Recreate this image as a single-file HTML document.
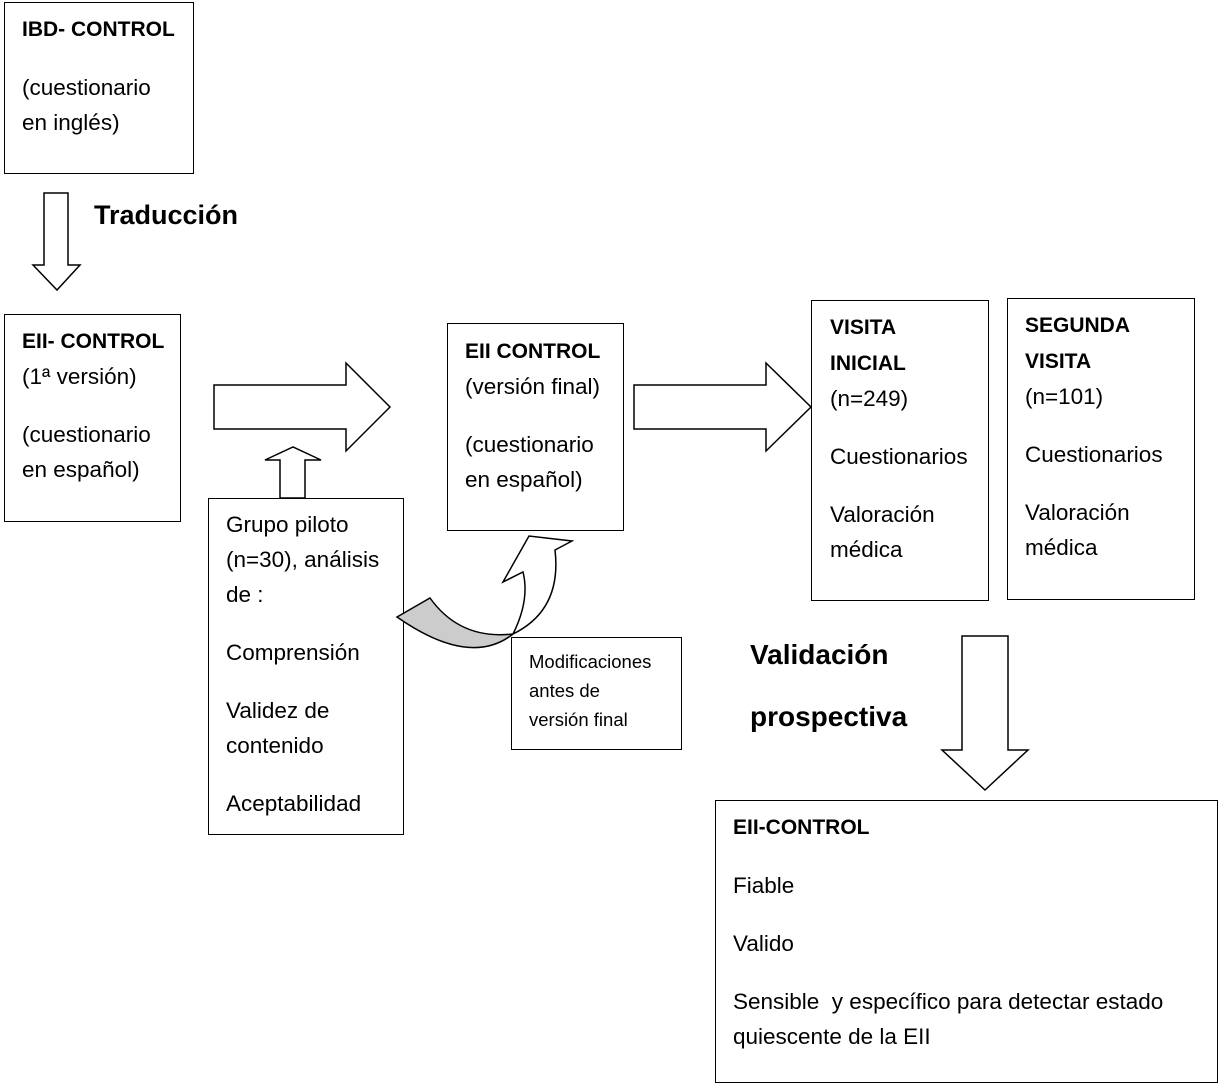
<!DOCTYPE html>
<html><head><meta charset="utf-8"><style>
body{margin:0;background:#fff;width:1220px;height:1085px;position:relative;overflow:hidden;font-family:"Liberation Sans",sans-serif;color:#000}
.b{position:absolute;border:1.5px solid #000;box-sizing:border-box;background:#fff}
.t{position:absolute;font-size:22.5px;line-height:35px;white-space:nowrap}
.t b{font-size:21px}
.g{height:23px}
</style></head><body>
<svg width="1220" height="1085" style="position:absolute;left:0;top:0" fill="#fff" stroke="#000" stroke-width="1.5">
<polygon points="44,193 68,193 68,265 80,265 57,290 33,265 44,265"/>
<polygon points="214,385 346,385 346,363 390,407 346,451 346,429 214,429"/>
<polygon points="280,498 280,460 265,460 293,447 321,460 305,460 305,498"/>
<polygon points="634,385 766,385 766,363 811,407 766,451 766,429 634,429"/>
<polygon points="962,636 1008,636 1008,750 1028,750 985,790 942,750 962,750"/>
</svg>
<div class="b" style="left:4px;top:2px;width:190px;height:172px"></div>
<div class="t" style="left:22px;top:11px"><div><b>IBD- CONTROL</b></div><div class="g"></div><div>(cuestionario</div><div>en inglés)</div></div>
<div class="t" style="left:94px;top:198px;font-size:27px;font-weight:bold">Traducción</div>
<div class="b" style="left:4px;top:314px;width:177px;height:208px"></div>
<div class="t" style="left:22px;top:323px"><div><b>EII- CONTROL</b></div><div>(1ª versión)</div><div class="g"></div><div>(cuestionario</div><div>en español)</div></div>
<div class="b" style="left:208px;top:498px;width:196px;height:337px"></div>
<div class="t" style="left:226px;top:507px"><div>Grupo piloto</div><div>(n=30), análisis</div><div>de :</div><div class="g"></div><div>Comprensión</div><div class="g"></div><div>Validez de</div><div>contenido</div><div class="g"></div><div>Aceptabilidad</div></div>
<div class="b" style="left:447px;top:323px;width:177px;height:208px"></div>
<div class="t" style="left:465px;top:333px"><div><b>EII CONTROL</b></div><div>(versión final)</div><div class="g"></div><div>(cuestionario</div><div>en español)</div></div>
<div class="b" style="left:811px;top:300px;width:178px;height:301px"></div>
<div class="t" style="left:830px;top:309px"><div><b>VISITA</b></div><div><b>INICIAL</b></div><div>(n=249)</div><div class="g"></div><div>Cuestionarios</div><div class="g"></div><div>Valoración</div><div>médica</div></div>
<div class="b" style="left:1007px;top:298px;width:188px;height:302px"></div>
<div class="t" style="left:1025px;top:307px"><div><b>SEGUNDA</b></div><div><b>VISITA</b></div><div>(n=101)</div><div class="g"></div><div>Cuestionarios</div><div class="g"></div><div>Valoración</div><div>médica</div></div>
<svg width="1220" height="1085" style="position:absolute;left:0;top:0" stroke="#000" stroke-width="1.5">
<path d="M397,617 L430,598 Q460,640 513,634 Q470,668 397,617 Z" fill="#ccc"/>
<path d="M513,634 Q530,600 523,572 L503,582 L529,536 L572,541 L555,550 Q562,610 513,634 Z" fill="#fff"/>
</svg>
<div class="b" style="left:511px;top:637px;width:171px;height:113px"></div>
<div class="t" style="left:529px;top:647px;font-size:18.5px;line-height:29px">Modificaciones<br>antes de<br>versión final</div>
<div class="t" style="left:750px;top:624px;font-size:28px;font-weight:bold;line-height:62px">Validación<br>prospectiva</div>
<div class="b" style="left:715px;top:800px;width:503px;height:283px"></div>
<div class="t" style="left:733px;top:809px"><div><b>EII-CONTROL</b></div><div class="g"></div><div>Fiable</div><div class="g"></div><div>Valido</div><div class="g"></div><div>Sensible&nbsp; y específico para detectar estado</div><div>quiescente de la EII</div></div>
</body></html>
